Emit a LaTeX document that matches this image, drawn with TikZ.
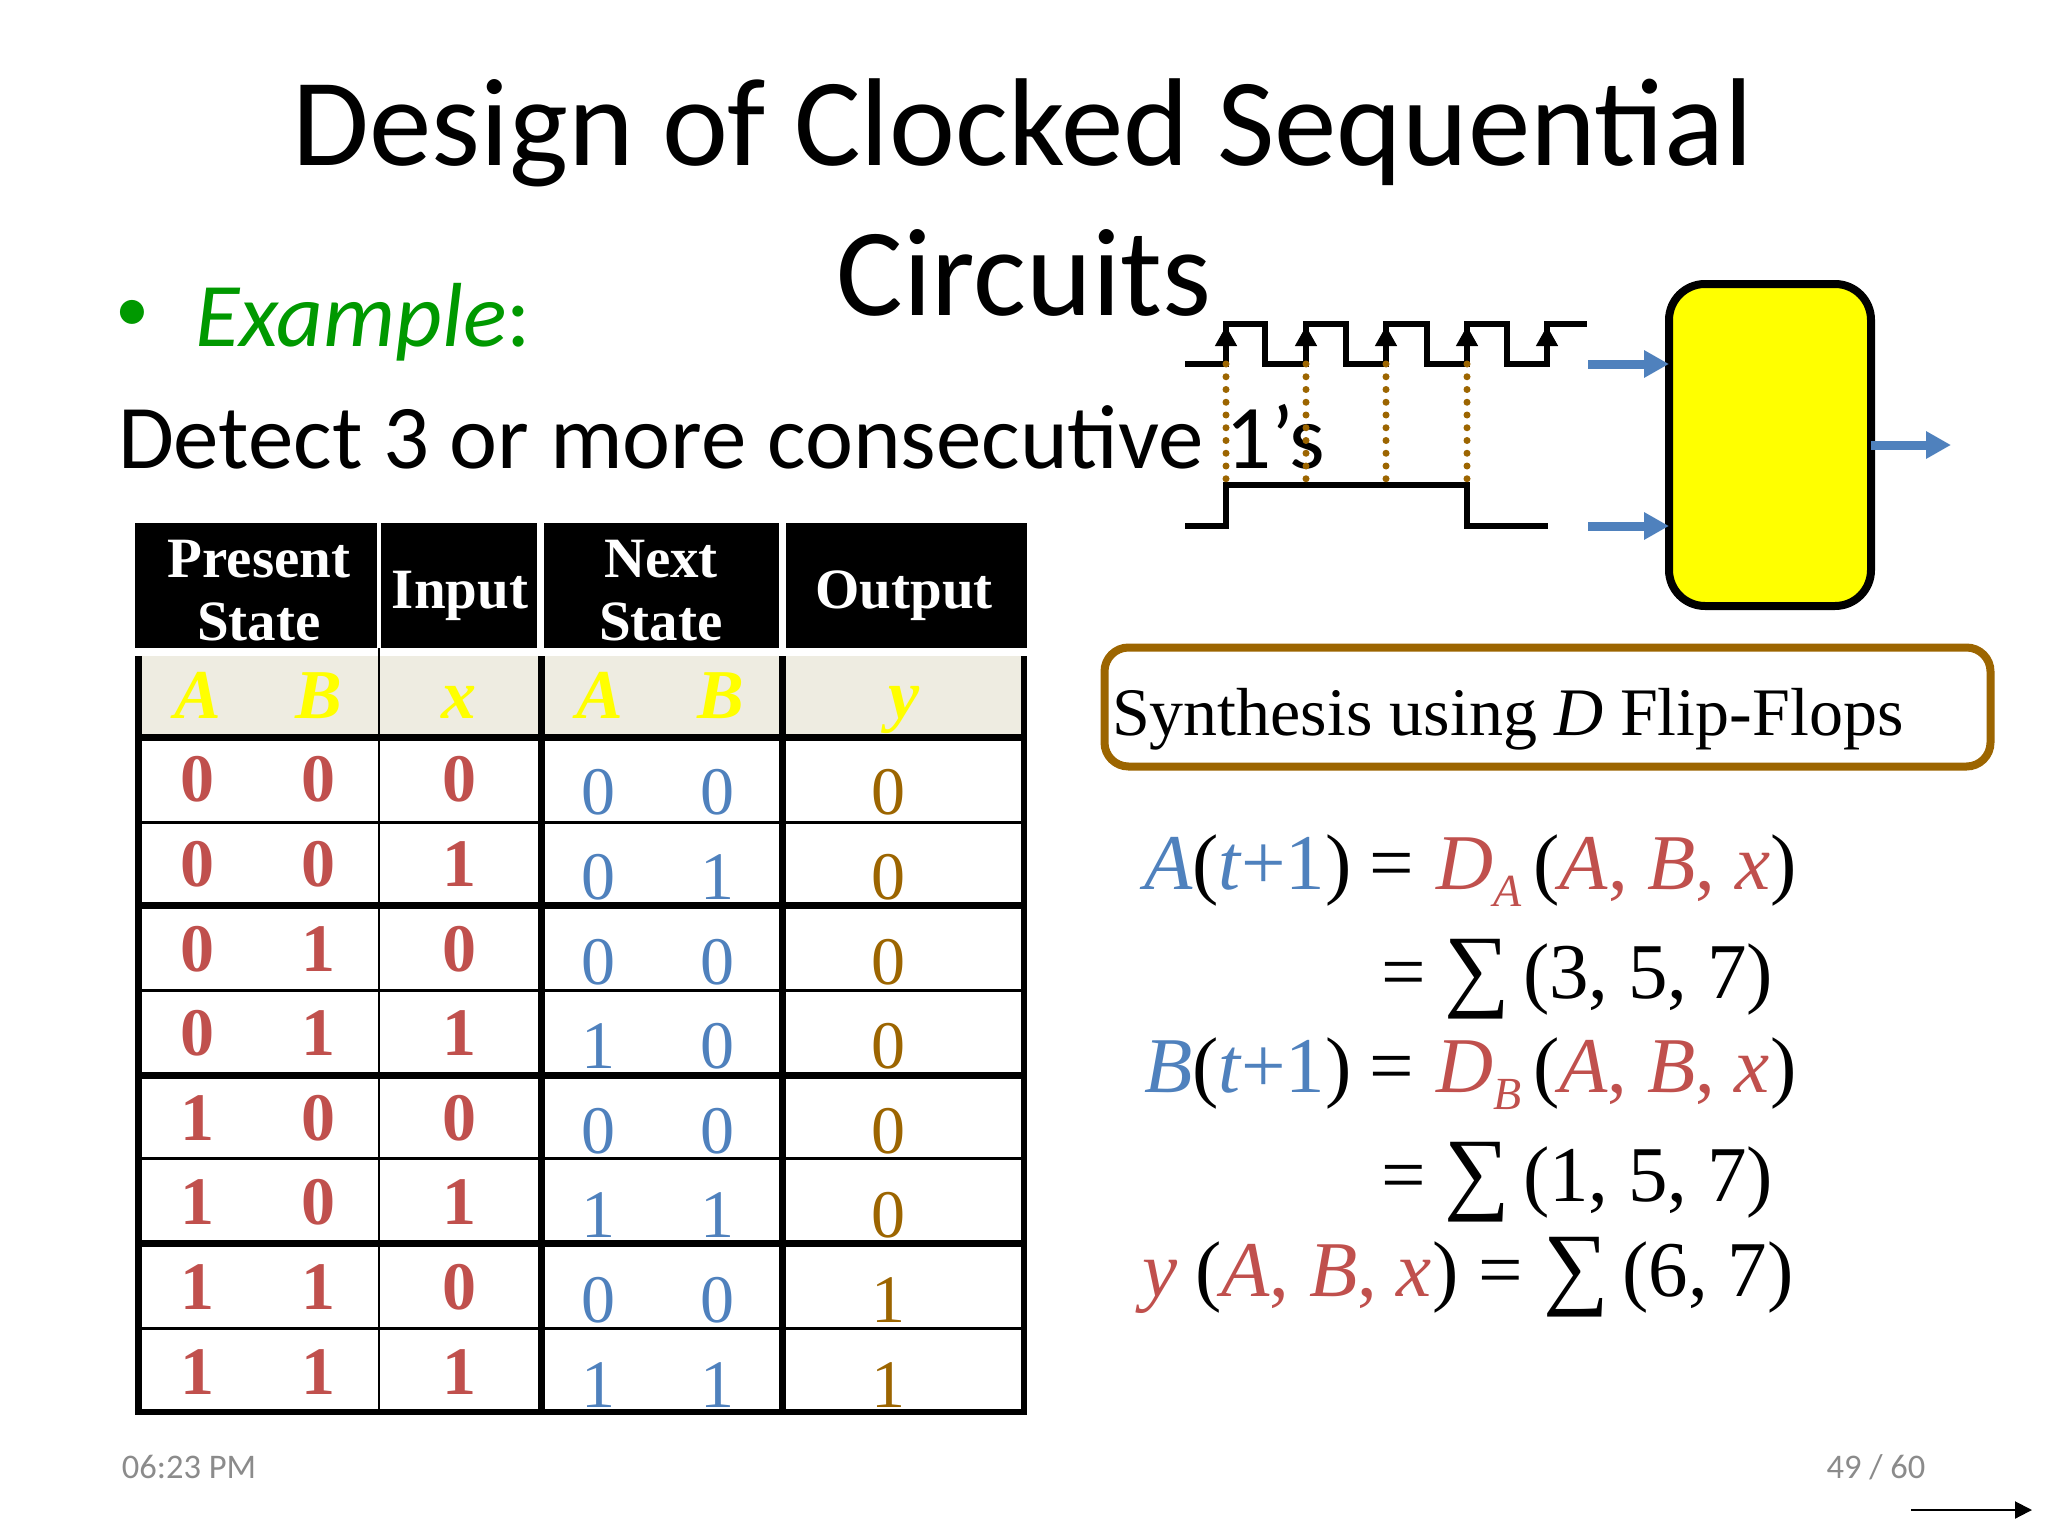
\documentclass[tikz,border=0pt]{standalone}
\usepackage{fontspec}
\usetikzlibrary{arrows.meta}
\setmainfont{Liberation Serif}
\newfontfamily\carlito[Ligatures=Common]{Carlito}
\definecolor{cred}{HTML}{C0504D}
\definecolor{cblue}{HTML}{4F81BD}
\definecolor{cbrown}{HTML}{9C6500}
\definecolor{cgreen}{HTML}{009900}
\definecolor{cgray}{HTML}{EEECE1}
\definecolor{cfoot}{HTML}{8B8B8B}
\definecolor{cyel}{HTML}{FFFF00}
\newcommand{\fs}[1]{\fontsize{#1}{#1}\selectfont}
\newcommand{\sgm}{{\fs{92}\raisebox{-1pt}{∑}}}
\tikzset{
  x=1pt,y=-1pt,
  lbl/.style={inner sep=0pt,outer sep=0pt,anchor=base},
  lblw/.style={inner sep=0pt,outer sep=0pt,anchor=base west},
  titletxt/.style={lbl,font=\carlito\fs{125}},
  slidetxt/.style={lblw,font=\carlito\fs{91}},
  foot/.style={lbl,font=\carlito\fs{34.5},text=cfoot},
  head/.style={lbl,font=\bfseries\fs{57},text=white},
  vars/.style={lbl,font=\bfseries\itshape\fs{70},text=cyel},
  redd/.style={lbl,font=\bfseries\fs{68},text=cred},
  blued/.style={lbl,font=\fs{68},text=cblue},
  brownd/.style={lbl,font=\fs{68},text=cbrown},
  eqn/.style={lblw,font=\fs{79}},
  wave/.style={line width=6pt,line join=miter},
  clockarrow/.style={line width=4.5pt,-{Triangle[length=20pt,width=21pt]}},
  dotline/.style={cbrown,line width=7pt,line cap=round,dash pattern=on 0pt off 12.75pt},
  bluearrow/.style={cblue,line width=9pt,-{Triangle[length=25pt,width=26pt]}},
  thickrule/.style={line width=7pt},
  thinrule/.style={line width=3pt},
}
\begin{document}
\begin{tikzpicture}
\useasboundingbox (0,0) rectangle (2048,1536);
\fill[white] (0,0) rectangle (2048,1536);
% title and text
\node[titletxt] (t1) at (1023,165.5) {Design of Clocked Sequential};
\node[titletxt] (t2) at (1024,315) {Circuits};
\node[lbl,font=\carlito\fs{68},text=cgreen] (bul) at (132,331) {•};
\node[slidetxt,text=cgreen,font=\carlito\itshape\fs{91}] (ex) at (195,346) {Example\/{\upshape:}};
\node[slidetxt] (det) at (118,468) {Detect 3 or more consecutive\hspace{1pt} 1’s};
% table fills
\fill[black] (135,523) rectangle (1027,648);
\fill[cgray] (138,656) rectangle (1024,735);
\fill[white] (376.8,523) rectangle (381,648);
\fill[white] (537,523) rectangle (544,656);
\fill[white] (779,523) rectangle (786,656);
% table rules
\draw[thickrule] (138,656) -- (138,1415);
\draw[thickrule,line width=5.5pt] (1024,656) -- (1024,1415);
\draw[line width=2pt] (379,648) -- (379,1412);
\draw[thickrule] (541,656) -- (541,1412);
\draw[thickrule] (782,656) -- (782,1412);
\foreach \yy in {737,905,1075,1243}{\draw[thickrule] (138,\yy) -- (1026,\yy);}
\foreach \yy in {822,990,1158,1328}{\draw[thinrule] (138,\yy) -- (1024,\yy);}
\draw[line width=6pt] (135,1412) -- (1027,1412);
% headers
\node[head] (h1) at (259,577) {Present};
\node[head] (h2) at (259,640) {State};
\node[head] (h3) at (460,608) {Input};
\node[head] (h4) at (661,577) {Next};
\node[head] (h5) at (661,640) {State};
\node[head] (h6) at (904,608) {Output};
\node[vars] (v1) at (198,718) {A};
\node[vars] (v2) at (319,718) {B};
\node[vars] (v3) at (459,718) {x};
\node[vars] (v4) at (600,718) {A};
\node[vars] (v5) at (721,718) {B};
\node[vars] (v6) at (904,718) {y};
% rows
\foreach \top/\a/\b/\c/\d/\e/\f [count=\r] in {
  736/0/0/0/0/0/0, 821/0/0/1/0/1/0, 906/0/1/0/0/0/0, 990/0/1/1/1/0/0,
  1075/1/0/0/0/0/0, 1159/1/0/1/1/1/0, 1244/1/1/0/0/0/1, 1329/1/1/1/1/1/1}{
  \pgfmathsetmacro{\yr}{\top+65}
  \pgfmathsetmacro{\yb}{\top+78}
  \node[redd] (ra\r) at (197,\yr) {\a};
  \node[redd] (rb\r) at (318,\yr) {\b};
  \node[redd] (rc\r) at (459,\yr) {\c};
  \node[blued] (rd\r) at (598,\yb) {\d};
  \node[blued] (re\r) at (717,\yb) {\e};
  \node[brownd] (rf\r) at (888,\yb) {\f};
}
% logic box
\node[draw=black,fill=cyel,line width=8pt,rounded corners=36pt,minimum width=202pt,minimum height=322pt,inner sep=0pt,outer sep=0pt] (logic) at (1770,445) {};
% waveforms
\draw[wave] (1185,364) -- (1226,364) -- (1226,324) -- (1265,324) -- (1265,364) -- (1306,364) -- (1306,324) -- (1346,324) -- (1346,364) -- (1386,364) -- (1386,324) -- (1427,324) -- (1427,364) -- (1467,364) -- (1467,324) -- (1507,324) -- (1507,364) -- (1547,364) -- (1547,324) -- (1587,324);
\draw[wave] (1185,526) -- (1226,526) -- (1226,485) -- (1467,485) -- (1467,526) -- (1548,526);
\foreach \xx in {1226,1306,1386,1467,1547}{\draw[clockarrow] (\xx,364) -- (\xx,326);}
\foreach \xx in {1226,1306,1386,1467}{\draw[dotline] (\xx,364) -- (\xx,485);}
% blue arrows
\coordinate (ck) at (1588,364);
\coordinate (in) at (1588,526);
\coordinate (ou) at (1951,445);
\draw[bluearrow] (ck) -- (logic.west |- ck);
\draw[bluearrow] (in) -- (logic.west |- in);
\draw[bluearrow] (logic.east) -- (ou);
% synthesis box
\node[draw=cbrown,line width=8pt,rounded corners=24pt,minimum width=886pt,minimum height=119pt,inner sep=0pt,outer sep=0pt] (syn) at (1547.5,707) {};
\node[lblw,font=\fs{68}] (syntxt) at (1112,735) {Synthesis using \textit{D} Flip-Flops};
% equations
\node[eqn] (e1) at (1144,889) {\textcolor{cblue}{\textit{A}}(\textcolor{cblue}{\textit{t}\kern-1pt+1})\kern18pt=\kern22pt\textcolor{cred}{\textit{D}\raisebox{-17pt}{\fs{46}\textit{A}}}\kern12pt(\textcolor{cred}{\textit{A}, \textit{B}, \textit{x}})};
\node[eqn] (e2) at (1381,998) {=\kern19pt\sgm\kern13pt(3, 5, 7)};
\node[eqn] (e3) at (1144,1092) {\textcolor{cblue}{\textit{B}}(\textcolor{cblue}{\textit{t}\kern-1pt+1})\kern18pt=\kern22pt\textcolor{cred}{\textit{D}\raisebox{-17pt}{\fs{46}\textit{B}}}\kern12pt(\textcolor{cred}{\textit{A}, \textit{B}, \textit{x}})};
\node[eqn] (e4) at (1381,1201) {=\kern19pt\sgm\kern13pt(1, 5, 7)};
\node[eqn] (e5) at (1142,1296) {\textcolor{cred}{\textit{y}}\kern18pt(\textcolor{cred}{\textit{A}, \textit{B}, \textit{x}})\kern20pt=\kern21pt\sgm\kern13pt(6, 7)};
% footer
\node[foot] (f1) at (189,1478) {06:23 PM};
\node[foot] (f2) at (1876,1478) {49 / 60};
\coordinate (n0) at (1911,1510);
\coordinate (n1) at (2032,1510);
\draw[line width=2pt,-{Triangle[length=17pt,width=17pt]}] (n0) -- (n1);
\end{tikzpicture}
\end{document}
